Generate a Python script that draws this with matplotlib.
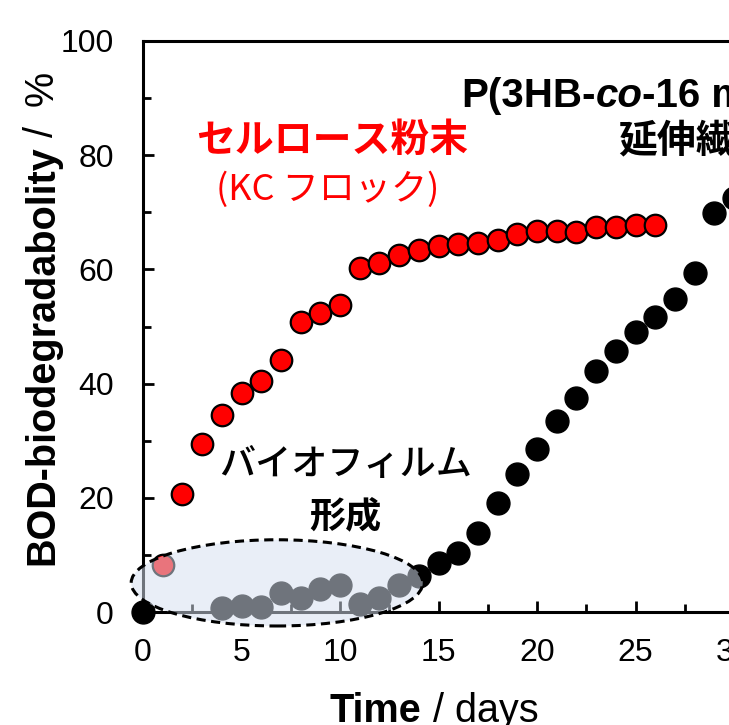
import matplotlib
matplotlib.use('Agg')
import matplotlib.pyplot as plt
from matplotlib.patches import Ellipse
from matplotlib.ticker import MultipleLocator

plt.rcParams['font.family'] = ['Liberation Sans', 'Noto Sans CJK JP', 'DejaVu Sans']

# セルロース粉末 (KC フロック)
cell_days = list(range(1, 27))
cell_bod = [8.2, 20.7, 29.4, 34.5, 38.4, 40.5, 44.1, 50.8, 52.4, 53.8,
            60.2, 61.1, 62.5, 63.4, 64.1, 64.4, 64.6, 65.1, 66.2, 66.7,
            66.7, 66.5, 67.4, 67.4, 67.8, 67.8]

# P(3HB-co-16 mol% 4HB) 延伸繊維
fib_days = [0, 4, 5, 6, 7, 8, 9, 10, 11, 12, 13, 14, 15, 16, 17, 18, 19,
            20, 21, 22, 23, 24, 25, 26, 27, 28, 29, 30]
fib_bod = [0.0, 0.7, 1.0, 0.9, 3.3, 2.5, 4.0, 4.7, 1.4, 2.5, 4.7, 6.3, 8.6,
           10.3, 13.8, 19.1, 24.2, 28.5, 33.5, 37.5, 42.2, 45.7, 49.0, 51.6,
           54.8, 59.3, 69.9, 72.5]

W, H = 729, 725
fig = plt.figure(figsize=(W / 100, H / 100), dpi=100)
# 右側は図の外へはみ出す（元画像は右で切れている）
ax = fig.add_axes([143 / W, 113 / H, 788 / W, 571 / H])

ax.plot(fib_days, fib_bod, 'o', color='black', ms=16.5, mec='black',
        mew=1.0, zorder=3, clip_on=False)
ax.plot(cell_days, cell_bod, 'o', color='#ff0000', ms=15.5, mec='black',
        mew=1.6, zorder=4, clip_on=False)

# バイオフィルム形成の範囲
ell = Ellipse((6.8, 5.1), 14.8, 15.1, facecolor=(0.84, 0.88, 0.94, 0.52),
              edgecolor='black', lw=2.2, linestyle=(0, (3, 1.8)),
              zorder=6, clip_on=False)
ax.add_patch(ell)

ax.set_xlim(0, 40)
ax.set_ylim(0, 100)
ax.xaxis.set_major_locator(MultipleLocator(5))
ax.xaxis.set_minor_locator(MultipleLocator(2.5))
ax.yaxis.set_major_locator(MultipleLocator(20))
ax.yaxis.set_minor_locator(MultipleLocator(10))
ax.tick_params(which='both', direction='in', width=2, labelsize=23)
ax.tick_params(which='major', length=8)
ax.tick_params(which='minor', length=6)
ax.tick_params(axis='x', which='major', pad=19)
ax.tick_params(axis='y', which='major', pad=21)
for s in ax.spines.values():
    s.set_linewidth(2.2)

# 注釈
ax.text(9.6, 82.5, 'セルロース粉末', color='#ff0000', fontsize=28,
        fontweight='bold', ha='center', va='center',
        family=['Noto Sans CJK JP'])
ax.text(9.4, 73.9, '(KC フロック)', color='#ff0000', fontsize=26,
        ha='center', va='center', family=['Noto Sans CJK JP'])
ax.text(10.3, 25.7, 'バイオフィルム', color='black', fontsize=26,
        fontweight='medium', ha='center', va='center',
        family=['Noto Sans CJK JP'])
ax.text(10.25, 16.6, '形成', color='black', fontsize=26,
        fontweight='bold', ha='center', va='center',
        family=['Noto Sans CJK JP'])
ax.text(24.1, 82.5, '延伸繊維', color='black', fontsize=28,
        fontweight='bold', ha='left', va='center',
        family=['Noto Sans CJK JP'])

fig.canvas.draw()
rend = fig.canvas.get_renderer()


def put_run(pieces, x, y, rotation=0):
    # 書式の違う文字列を横（または縦）に並べる。x, y はピクセル
    for s, props, gap in pieces:
        if rotation == 0:
            x += gap
        else:
            y += gap
        t = fig.text(x / W, y / H, s, rotation=rotation,
                     rotation_mode='anchor', ha='left', va='baseline',
                     **props)
        bb = t.get_window_extent(rend)
        if rotation == 0:
            x += bb.width
        else:
            y += bb.height


bold = dict(fontsize=29, fontweight='bold')
put_run([('P(3HB-', bold, 0),
         ('co', dict(bold, style='italic'), 0),
         ('-16 mol% 4HB)', bold, 0)],
        461, H - 107)
lab_b = dict(fontsize=28.5, fontweight='bold')
lab_r = dict(fontsize=28.5)
put_run([('BOD-biodegradabolity', lab_b, 0),
         ('/', lab_r, 8),
         ('%', lab_r, 20)],
        53, H - 565, rotation=90)
put_run([('Time', lab_b, 0),
         (' / days', lab_r, 0)],
        330, H - 722)

fig.savefig('out.png', dpi=100)
